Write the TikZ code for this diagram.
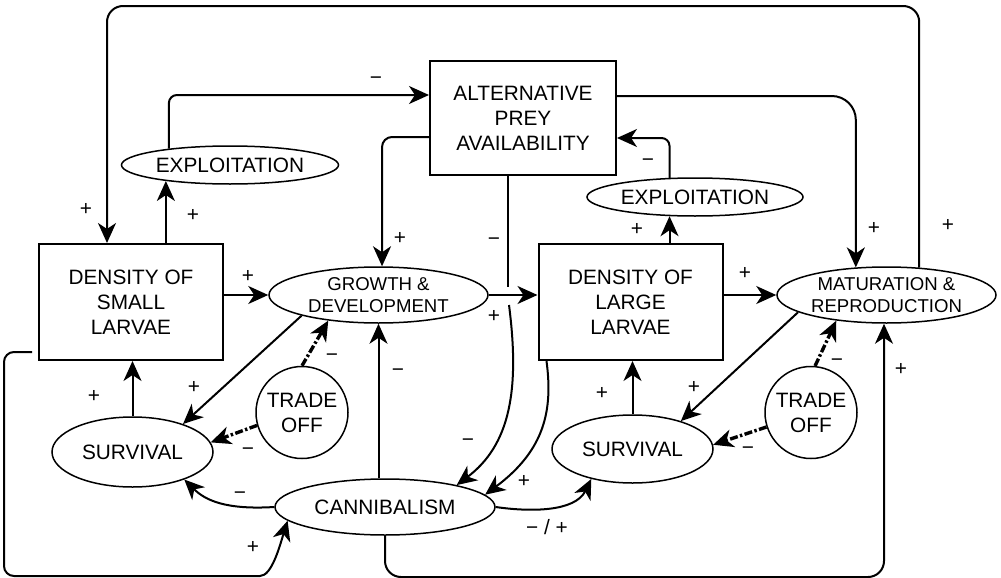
\documentclass[tikz,border=0pt]{standalone}
\usepackage{fontspec}
\setmainfont{Liberation Sans}
\usetikzlibrary{arrows.meta,shapes.geometric}
\tikzset{
  box/.style={draw, line width=1pt, minimum width=92pt, minimum height=58pt, inner sep=0pt, align=center, font=\fontsize{10.4}{12.5}\selectfont},
  oval/.style={draw, ellipse, line width=0.75pt, inner sep=0pt, align=center, font=\fontsize{10.4}{12.5}\selectfont},
  small/.style={font=\fontsize{9.3}{11}\selectfont},
  ring/.style={draw, circle, line width=0.75pt, minimum size=46pt, inner sep=0pt, align=center, font=\fontsize{10.4}{12.5}\selectfont},
  link/.style={line width=1pt, -{Stealth[length=10pt, width=9pt, inset=3pt]}},
  trade/.style={link, line width=1.7pt, dash pattern=on 4pt off 1.2pt on 1.2pt off 1.2pt},
  sign/.style={inner sep=0pt, font=\fontsize{10.4}{12.5}\selectfont}
}
\begin{document}
\begin{tikzpicture}[x=0.5pt, y=-0.5pt]
    \useasboundingbox (0,0) rectangle (1001,578);
    \node[box] (sl) at (131,302) {DENSITY OF\\SMALL\\LARVAE};
    \node[box, minimum width=93pt, minimum height=57pt] (ap) at (523,118) {ALTERNATIVE\\PREY\\AVAILABILITY};
    \node[box] (ll) at (630.5,302) {DENSITY OF\\LARGE\\LARVAE};
    \node[oval, minimum width=108.5pt, minimum height=19pt] (exl) at (230,165) {EXPLOITATION};
    \node[oval, minimum width=108pt, minimum height=19pt] (exr) at (695,197) {EXPLOITATION};
    \node[oval, small, minimum width=109.5pt, minimum height=28pt] (gd) at (378.5,295) {GROWTH \&\\DEVELOPMENT};
    \node[oval, small, minimum width=109.5pt, minimum height=28pt] (mr) at (886.5,295) {MATURATION \&\\REPRODUCTION};
    \node[oval, minimum width=80.5pt, minimum height=35pt] (svl) at (132.5,452) {SURVIVAL};
    \node[oval, minimum width=80.5pt, minimum height=34pt] (svr) at (632.5,449) {SURVIVAL};
    \node[ring] (tol) at (302,412.5) {TRADE\\OFF};
    \node[ring] (tor) at (811,412.5) {TRADE\\OFF};
    \node[oval, minimum width=110pt, minimum height=28pt] (can) at (385,507) {CANNIBALISM};

    \coordinate (tl) at (107,6);
    \coordinate (brA) at (508,287);
    \coordinate (brB) at (509,305);
    \coordinate (blc) at (4,576);
    \coordinate (brc) at (884,577);

    \draw[link, rounded corners=8pt] (mr.40) |- (tl) -- (sl.north -| tl);
    \draw[link, rounded corners=4pt] (exl.165) |- ([yshift=11.5pt]ap.west);
    \draw[link] (sl.north -| exl.194) -- (exl.194);
    \draw[link, rounded corners=5pt] ([yshift=-9.5pt]ap.west) -| (gd.83);
    \draw[link, rounded corners=12pt] ([yshift=11pt]ap.east) -| (mr.138);
    \draw[link, rounded corners=4pt] (exr.143) |- ([yshift=-10pt]ap.east);
    \draw[link] (ll.north -| exr.217) -- (exr.217);
    \draw[line width=1pt] (ap.south -| brA) -- (brA);
    \draw[link] (brB) .. controls (520,390) and (510,445) .. (can.17);
    \draw[link] ([xshift=4.5pt]ll.south west) .. controls (553,410) and (545,450) .. (can.7);
    \draw[link] (sl.east |- gd.west) -- (gd.west);
    \draw[link] (gd.east) -- (gd.east -| ll.west);
    \draw[link] (ll.east |- mr.west) -- (mr.west);
    \draw[link] (gd.195) -- (svl.29);
    \draw[trade] (tol.90) -- (gd.207);
    \draw[trade] (tol.196) -- (svl.7);
    \draw[link] (svl.north) -- (svl.north |- sl.south);
    \draw[link] (gd.south |- can.north) -- (gd.south);
    \draw[link] (can.west) .. controls (225,510) and (205,500) .. (svl.332);
    \draw[link, rounded corners=5pt] ([xshift=-3pt,yshift=4.5pt]sl.south west) -| (blc) -- (250,576) .. controls (272,576) and (280,545) .. (can.188);
    \draw[link, rounded corners=8pt] (can.south) |- (brc) -- (mr.south -| brc);
    \draw[link] (can.east) .. controls (530,512) and (575,512) .. (svr.216);
    \draw[link] (mr.191) -- (svr.30);
    \draw[trade] (tor.85) -- (mr.207);
    \draw[trade] (tor.198) -- (svr.3);
    \draw[link] (svr.north) -- (svr.north |- ll.south);

    \node[sign] (p1) at (86,209) {+};
    \node[sign] (p2) at (948,225) {+};
    \node[sign] (m1) at (376,81) {−};
    \node[sign] (p3) at (193,215) {+};
    \node[sign] (p4) at (400,238) {+};
    \node[sign] (p5) at (874,228) {+};
    \node[sign] (m2) at (648,163) {−};
    \node[sign] (p6) at (637,229) {+};
    \node[sign] (m3) at (494,242) {−};
    \node[sign] (m4) at (468,443) {−};
    \node[sign] (p7) at (524,481) {+};
    \node[sign] (p8) at (248,276) {+};
    \node[sign] (p9) at (494,316) {+};
    \node[sign] (p10) at (745,273) {+};
    \node[sign] (p11) at (194,387) {+};
    \node[sign] (m5) at (332,358) {−};
    \node[sign] (m6) at (248,452) {−};
    \node[sign] (p12) at (94,396) {+};
    \node[sign] (m7) at (398,373) {−};
    \node[sign] (m8) at (240,496) {−};
    \node[sign] (p13) at (253,547) {+};
    \node[sign] (p14) at (901,369) {+};
    \node[sign] (mp) at (547,527) {− / +};
    \node[sign] (p15) at (694,387) {+};
    \node[sign] (m9) at (837,363) {−};
    \node[sign] (m10) at (748,451) {−};
    \node[sign] (p16) at (602,393) {+};
\end{tikzpicture}
\end{document}
